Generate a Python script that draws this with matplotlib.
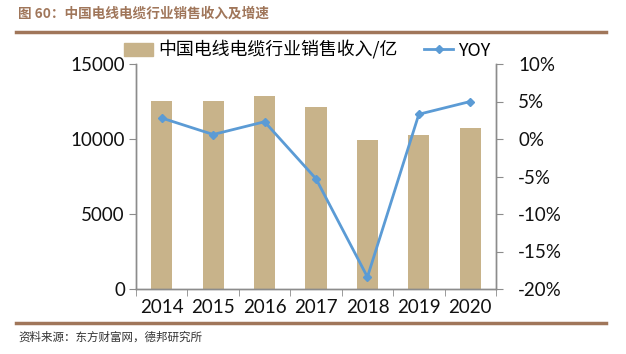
import matplotlib
matplotlib.use("Agg")
import matplotlib.pyplot as plt
from matplotlib.lines import Line2D
from matplotlib.patches import Patch
from matplotlib.ticker import FuncFormatter

plt.rcParams['font.family'] = ['Lato', 'Noto Sans CJK SC']

years = ['2014', '2015', '2016', '2017', '2018', '2019', '2020']
revenue = [12530, 12560, 12870, 12130, 9910, 10270, 10710]
yoy = [2.8, 0.6, 2.3, -5.3, -18.4, 3.3, 5.0]

title = '图 60：中国电线电缆行业销售收入及增速'
source = '资料来源：东方财富网，德邦研究所'
bar_label = '中国电线电缆行业销售收入/亿'
line_label = 'YOY'

bar_color = '#C8B38A'
line_color = '#5B9BD5'
brown = '#A0765A'
spine = '#8C8C8C'

fig = plt.figure(figsize=(6.26, 3.54), dpi=100)
ax = fig.add_axes([136/626, 1-289/354, 360/626, 225/354])
ax2 = ax.twinx()

x = list(range(len(years)))
ax.bar(x, revenue, width=0.41, color=bar_color, zorder=2)
ax2.plot(x, yoy, color=line_color, lw=2, marker='D', ms=4.5, zorder=3)

ax.set_xlim(-0.5, len(years) - 0.5)
ax.set_ylim(0, 15000)
ax.set_yticks([0, 5000, 10000, 15000])
ax2.set_ylim(-20, 10)
ax2.set_yticks([-20, -15, -10, -5, 0, 5, 10])
ax2.yaxis.set_major_formatter(FuncFormatter(lambda v, p: f'{v:.0f}%'))

ax.set_xticks(x)
ax.set_xticklabels(years)
ax.set_xticks([i - 0.5 for i in range(len(years) + 1)], minor=True)
ax.tick_params(axis='x', which='major', length=0, labelsize=13.5, pad=7, labelcolor='#111111')
ax.tick_params(axis='x', which='minor', length=5, direction='out', color=spine)
ax.tick_params(axis='y', labelsize=13.5, length=5, pad=3, direction='out', color=spine, labelcolor='#111111')
ax2.tick_params(axis='y', labelsize=13.5, length=5, pad=11, direction='out', color=spine, labelcolor='#111111')

for a in (ax, ax2):
    a.spines['top'].set_visible(False)
    for s in ('left', 'right', 'bottom'):
        a.spines[s].set_color(spine)
        a.spines[s].set_linewidth(1.0)

handles = [Patch(color=bar_color),
           Line2D([], [], color=line_color, lw=2, marker='D', ms=4)]
fig.legend(handles, [bar_label, line_label], loc='center left', bbox_to_anchor=(108/626, 1-50/354),
           ncol=2, frameon=False, handlelength=1.6, handleheight=0.7,
           columnspacing=1.5, handletextpad=0.3,
           prop={'family': ['Noto Sans CJK SC', 'Lato'], 'size': 12.9})

fig.text(18/626, 1-14/354, title, fontsize=9.8, fontweight='bold', color=brown,
         family=['Noto Sans CJK SC', 'DejaVu Sans'], va='center', ha='left')
fig.add_artist(Line2D([16/626, 606/626], [1-32/354, 1-32/354], color=brown, lw=2.5))
fig.add_artist(Line2D([16/626, 606/626], [1-323/354, 1-323/354], color=brown, lw=2.5))
fig.text(18/626, 1-337/354, source, fontsize=8.3, color='#333333',
         family=['Noto Sans CJK SC', 'DejaVu Sans'], va='center', ha='left')

fig.savefig('out.png', dpi=100)
